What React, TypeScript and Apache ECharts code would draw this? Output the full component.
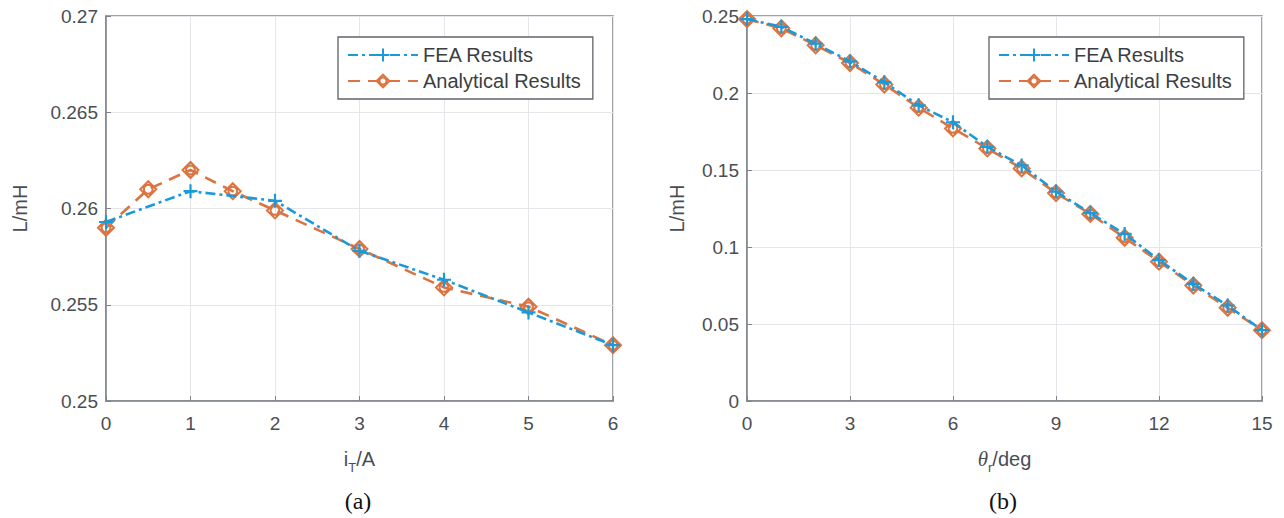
import React, { useEffect, useRef } from "react";
import * as echarts from "echarts";

// ---- data (a) ----
const currentFEA = [0, 1, 2, 3, 4, 5, 6];
const inductFEA_a = [0.2593, 0.2609, 0.2604, 0.2578, 0.2563, 0.2546, 0.2529];
const currentAna = [0, 0.5, 1, 1.5, 2, 3, 4, 5, 6];
const inductAna_a = [0.259, 0.261, 0.262, 0.2609, 0.2599, 0.2579, 0.2559, 0.2549, 0.2529];

// ---- data (b) ----
const thetaDeg = [0, 1, 2, 3, 4, 5, 6, 7, 8, 9, 10, 11, 12, 13, 14, 15];
const inductFEA_b = [0.248, 0.243, 0.232, 0.2205, 0.207, 0.192, 0.181, 0.165, 0.153, 0.136, 0.122, 0.1085, 0.0915, 0.076, 0.062, 0.046];
const inductAna_b = [0.248, 0.242, 0.231, 0.2195, 0.2055, 0.1905, 0.177, 0.164, 0.151, 0.135, 0.1215, 0.106, 0.0905, 0.075, 0.0605, 0.046];

const seriesNames = ["FEA Results", "Analytical Results"];
const captions = ["(a)", "(b)"];

const BLUE = "#1b9ad9";
const ORANGE = "#dc7442";
const AXIS = "#80858b";
const GRIDC = "#e4e6e9";
const TXT = "#4a4e53";

const plusPath = "path://M10,0 L10,20 M0,10 L20,10";
const diamondCircle =
  "path://M10,0 L20,10 L10,20 L0,10 Z M10,4.5 A5.5,5.5 0 1 1 9.99,4.5 Z";

const zip = (xs: number[], ys: number[]) => xs.map((x, i) => [x, ys[i]]);

export default function App() {
  const ref = useRef<HTMLDivElement>(null);
  useEffect(() => {
    document.body.style.margin = "0";
    if (!ref.current) return;
    const chart = echarts.init(ref.current, undefined, { renderer: "svg" });

    const axisCommon = {
      axisLine: { show: true, lineStyle: { color: AXIS, width: 1.5 } },
      axisTick: { show: true, inside: true, length: 5, lineStyle: { color: AXIS } },
      splitLine: { show: true, lineStyle: { color: GRIDC, width: 1 } },
      axisLabel: { color: TXT, fontSize: 19, fontFamily: "Liberation Sans" },
      nameTextStyle: { color: TXT, fontSize: 20, fontFamily: "Liberation Sans" },
    };

    const legendCommon = {
      orient: "vertical",
      borderColor: "#5f6368",
      borderWidth: 1.3,
      backgroundColor: "#ffffff",
      padding: [8, 12, 8, 9],
      itemGap: 6,
      itemWidth: 70,
      itemHeight: 16,
      textStyle: { color: "#3b3e42", fontSize: 20, fontFamily: "Liberation Sans" },
      data: seriesNames,
    };

    const feaStyle = (xi: number, data: number[][]) => ({
      name: seriesNames[0],
      type: "line",
      xAxisIndex: xi,
      yAxisIndex: xi,
      data,
      z: 4,
      symbol: plusPath,
      symbolSize: 14,
      lineStyle: { color: BLUE, width: 2.6, type: [10, 4, 3, 4] },
      itemStyle: { color: BLUE, borderColor: BLUE, borderWidth: 2.2 },
    });
    const anaStyle = (xi: number, data: number[][]) => ({
      name: seriesNames[1],
      type: "line",
      xAxisIndex: xi,
      yAxisIndex: xi,
      data,
      z: 3,
      symbol: diamondCircle,
      symbolSize: 16,
      lineStyle: { color: ORANGE, width: 2.6, type: [12, 8] },
      itemStyle: { color: "rgba(255,255,255,0)", borderColor: ORANGE, borderWidth: 2 },
    });

    chart.setOption({
      animation: false,
      grid: [
        { left: 106, top: 16, width: 507, height: 385, show: true, borderColor: AXIS, borderWidth: 1.5, backgroundColor: "#fff" },
        { left: 747, top: 16, width: 515, height: 385, show: true, borderColor: AXIS, borderWidth: 1.5, backgroundColor: "#fff" },
      ],
      xAxis: [
        {
          ...axisCommon,
          type: "value",
          gridIndex: 0,
          min: 0,
          max: 6,
          interval: 1,
          axisLabel: { ...axisCommon.axisLabel, margin: 13 },
          name: "{a|i}{s|T}{a|/A}",
          nameLocation: "middle",
          nameGap: 42,
          nameTextStyle: {
            ...axisCommon.nameTextStyle,
            rich: {
              a: { fontSize: 20, color: TXT, fontFamily: "Liberation Sans" },
              s: { fontSize: 13, color: TXT, fontFamily: "Liberation Sans", padding: [18, 0, 0, 0] },
            },
          },
        },
        {
          ...axisCommon,
          type: "value",
          gridIndex: 1,
          min: 0,
          max: 15,
          interval: 3,
          axisLabel: { ...axisCommon.axisLabel, margin: 13 },
          name: "{t|θ}{s|r}{a|/deg}",
          nameLocation: "middle",
          nameGap: 42,
          nameTextStyle: {
            ...axisCommon.nameTextStyle,
            rich: {
              t: { fontSize: 21, color: TXT, fontFamily: "Liberation Serif", fontStyle: "italic" },
              a: { fontSize: 20, color: TXT, fontFamily: "Liberation Sans" },
              s: { fontSize: 13, color: TXT, fontFamily: "Liberation Sans", padding: [18, 0, 0, 0] },
            },
          },
        },
      ],
      yAxis: [
        {
          ...axisCommon,
          type: "value",
          gridIndex: 0,
          min: 0.25,
          max: 0.27,
          interval: 0.005,
          axisLabel: { ...axisCommon.axisLabel, margin: 8 },
          name: "L/mH",
          nameLocation: "middle",
          nameGap: 76,
        },
        {
          ...axisCommon,
          type: "value",
          gridIndex: 1,
          min: 0,
          max: 0.25,
          interval: 0.05,
          axisLabel: { ...axisCommon.axisLabel, margin: 8 },
          name: "L/mH",
          nameLocation: "middle",
          nameGap: 60,
        },
      ],
      legend: [
        { ...legendCommon, left: 338, top: 37 },
        { ...legendCommon, left: 989, top: 37 },
      ],
      series: [
        anaStyle(0, zip(currentAna, inductAna_a)),
        feaStyle(0, zip(currentFEA, inductFEA_a)),
        anaStyle(1, zip(thetaDeg, inductAna_b)),
        feaStyle(1, zip(thetaDeg, inductFEA_b)),
      ],
      graphic: [
        {
          type: "text",
          x: 358,
          y: 501,
          style: { text: captions[0], fontSize: 24, fontFamily: "Liberation Serif", fill: "#111", textAlign: "center", textVerticalAlign: "middle" },
        },
        {
          type: "text",
          x: 1003,
          y: 501,
          style: { text: captions[1], fontSize: 24, fontFamily: "Liberation Serif", fill: "#111", textAlign: "center", textVerticalAlign: "middle" },
        },
      ],
    });
    return () => chart.dispose();
  }, []);
  return <div ref={ref} style={{ width: 1284, height: 518 }} />;
}
